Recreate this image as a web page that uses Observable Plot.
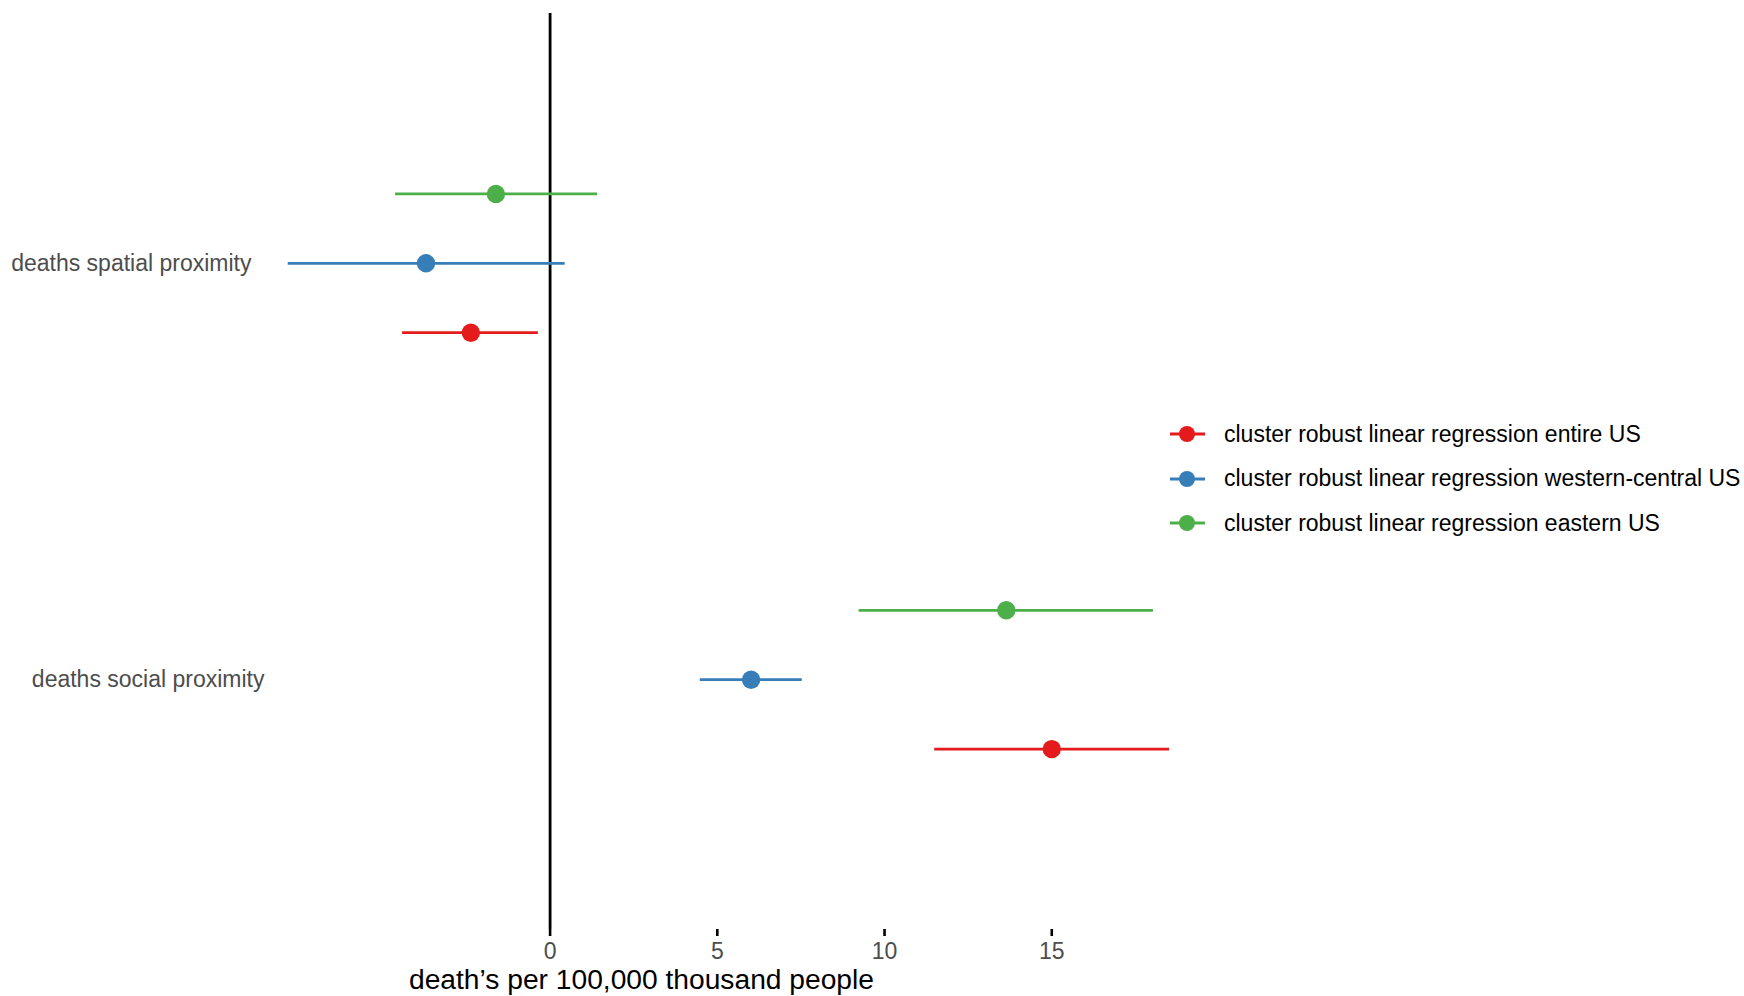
<!DOCTYPE html>
<html>
<head>
<meta charset="utf-8">
<script src="https://cdn.jsdelivr.net/npm/d3@7"></script>
<script src="https://cdn.jsdelivr.net/npm/@observablehq/plot@0.6"></script>
<style>
  body { margin: 0; background: #fff; font-family: "Liberation Sans", Arial, Helvetica, sans-serif; }
  #wrap { position: relative; width: 1744px; height: 996px; background: #fff; }
  #chart { position: absolute; left: 0; top: 0; }
  #xtitle { position: absolute; left: 0; top: 965px; width: 1283px; text-align: center;
            font-size: 28.2px; line-height: 28px; color: #000; white-space: nowrap; }
  #legend { position: absolute; left: 1170px; top: 412px; }
  .row { display: flex; align-items: center; height: 44.5px; font-size: 23px; color: #000; white-space: nowrap; }
  .row svg { margin-right: 19px; flex: none; }
</style>
</head>
<body>
<div id="wrap">
  <div id="chart"></div>
  <div id="xtitle"></div>
  <div id="legend"></div>
</div>
<script>
// ---- data ----
const categories = ["deaths spatial proximity", "deaths social proximity"];
const models = [
  "cluster robust linear regression entire US",
  "cluster robust linear regression western-central US",
  "cluster robust linear regression eastern US"
];
const modelColors = ["#E41A1C", "#377EB8", "#4DAF4A"];

const rowTerm = [
  "deaths spatial proximity", "deaths spatial proximity", "deaths spatial proximity",
  "deaths social proximity", "deaths social proximity", "deaths social proximity"
];
const rowModel = [models[0], models[1], models[2], models[0], models[1], models[2]];
const estimate = [-2.37, -3.71, -1.62, 15.00, 6.01, 13.64];
const lower    = [-4.41, -7.83, -4.62, 11.50, 4.49, 9.24];
const upper    = [-0.35,  0.45,  1.42, 18.52, 7.54, 18.04];

const xTicks = [0, 5, 10, 15];
const xTitle = "death\u2019s per 100,000 thousand people";

// ---- table (discrete position + dodge, as ggplot does) ----
const dodgeWidth = 0.5;
const rows = estimate.map((e, i) => {
  const catPos = categories.length - categories.indexOf(rowTerm[i]);
  const k = models.indexOf(rowModel[i]);
  const off = (k - (models.length - 1) / 2) * dodgeWidth / models.length;
  return { term: rowTerm[i], model: rowModel[i], estimate: e, lower: lower[i], upper: upper[i], ypos: catPos + off };
});

const font = "\"Liberation Sans\", Arial, Helvetica, sans-serif";

const chart = Plot.plot({
  width: 1170,
  height: 965,
  marginLeft: 272,
  marginRight: 0,
  marginTop: 13,
  marginBottom: 36,
  style: { fontFamily: font, background: "white", overflow: "visible" },
  x: { domain: [-8.3, 18.55] },
  y: { domain: [0.4, 2.6] },
  color: { domain: models, range: modelColors },
  marks: [
    Plot.ruleX([0], { stroke: "black", strokeWidth: 2.8 }),
    Plot.ruleY(rows, { y: "ypos", x1: "lower", x2: "upper", stroke: "model", strokeWidth: 2.7 }),
    Plot.dot(rows, { x: "estimate", y: "ypos", fill: "model", r: 9.2 }),
    Plot.axisX({ ticks: xTicks, tickSize: 7, tickPadding: 6, fontSize: 23, stroke: "black",
                 strokeWidth: 2.6, fill: "#4d4d4d", label: null }),
    Plot.axisY({ ticks: [2], tickFormat: () => categories[0], tickSize: 0, tickPadding: 21,
                 fontSize: 23, fill: "#4d4d4d", label: null }),
    Plot.axisY({ ticks: [1], tickFormat: () => categories[1], tickSize: 0, tickPadding: 8,
                 fontSize: 23, fill: "#4d4d4d", label: null })
  ]
});
document.getElementById("chart").appendChild(chart);
document.getElementById("xtitle").textContent = xTitle;

// ---- legend ----
const legend = document.getElementById("legend");
models.forEach((m, i) => {
  const row = document.createElement("div");
  row.className = "row";
  const ns = "http://www.w3.org/2000/svg";
  const svg = document.createElementNS(ns, "svg");
  svg.setAttribute("width", 35);
  svg.setAttribute("height", 20);
  const line = document.createElementNS(ns, "line");
  line.setAttribute("x1", 0); line.setAttribute("x2", 35);
  line.setAttribute("y1", 10); line.setAttribute("y2", 10);
  line.setAttribute("stroke", modelColors[i]); line.setAttribute("stroke-width", 3);
  const c = document.createElementNS(ns, "circle");
  c.setAttribute("cx", 17); c.setAttribute("cy", 10); c.setAttribute("r", 8);
  c.setAttribute("fill", modelColors[i]);
  svg.appendChild(line); svg.appendChild(c);
  const span = document.createElement("span");
  span.textContent = m;
  row.appendChild(svg); row.appendChild(span);
  legend.appendChild(row);
});
</script>
</body>
</html>
